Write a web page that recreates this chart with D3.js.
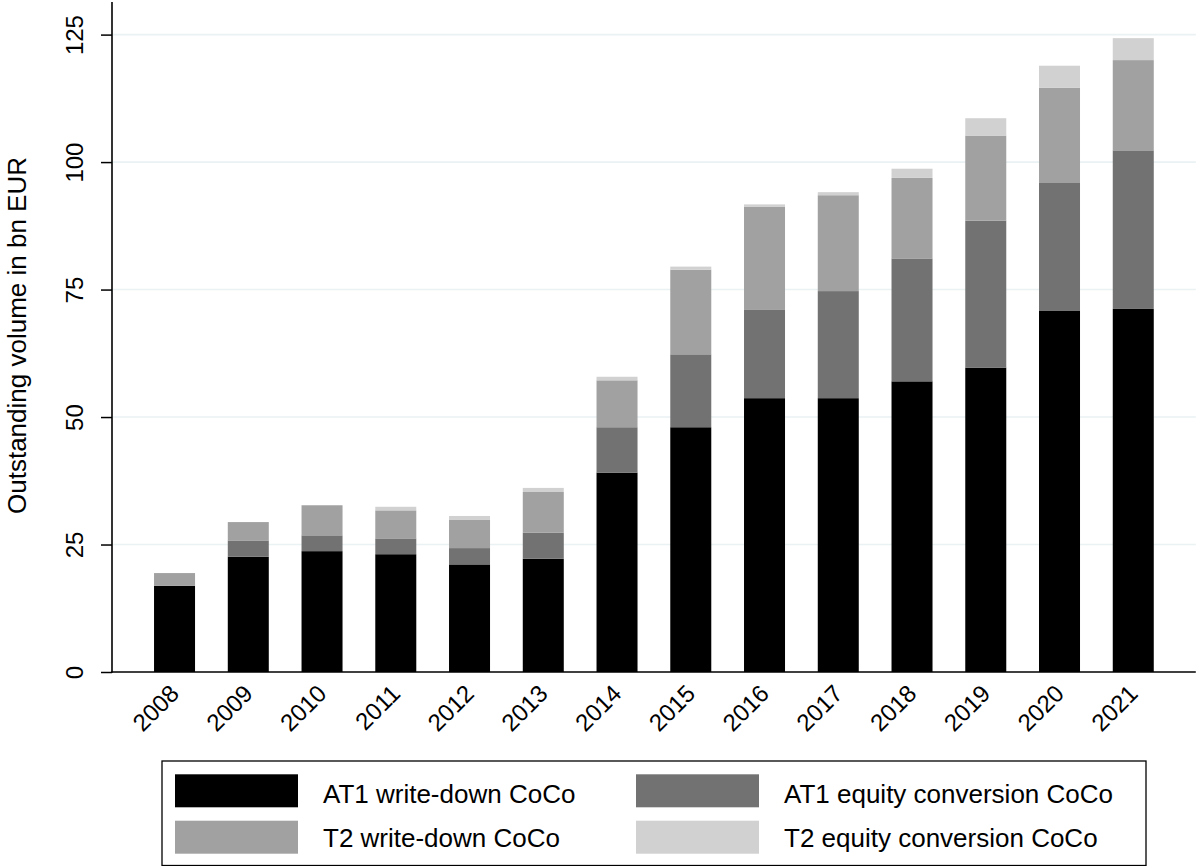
<!DOCTYPE html>
<html>
<head>
<meta charset="utf-8">
<script src="https://cdn.jsdelivr.net/npm/d3@7"></script>
<style>
  html, body { margin: 0; padding: 0; background: #fff; }
  svg { display: block; font-family: "Liberation Sans", Arial, Helvetica, sans-serif; }
</style>
</head>
<body>
<svg id="chart" width="1196" height="866"></svg>
<script>
const years = ["2008","2009","2010","2011","2012","2013","2014","2015","2016","2017","2018","2019","2020","2021"];
const at1WriteDown   = [16.9, 22.6, 23.7, 23.1, 21.1, 22.2, 39.1, 48.0, 53.7, 53.7, 57.0, 59.7, 70.8, 71.2];
const at1EquityConv  = [0.0, 3.2, 3.1, 3.1, 3.2, 5.1, 8.9, 14.3, 17.3, 21.0, 24.1, 28.8, 25.1, 31.1];
const t2WriteDown    = [2.5, 3.6, 5.9, 5.5, 5.6, 8.0, 9.2, 16.6, 20.2, 18.8, 15.8, 16.7, 18.7, 17.7];
const t2EquityConv   = [0.0, 0.0, 0.0, 0.7, 0.7, 0.8, 0.7, 0.6, 0.5, 0.6, 1.8, 3.4, 4.3, 4.3];
const seriesNames = ["AT1 write-down CoCo", "AT1 equity conversion CoCo", "T2 write-down CoCo", "T2 equity conversion CoCo"];
const seriesKeys = ["at1wd", "at1eq", "t2wd", "t2eq"];
const seriesColors = ["#000000", "#727272", "#a1a1a1", "#d1d1d1"];
const yTicks = [0, 25, 50, 75, 100, 125];
const yTitle = "Outstanding volume in bn EUR";

const table = years.map((yr, i) => ({
  year: yr,
  at1wd: at1WriteDown[i],
  at1eq: at1EquityConv[i],
  t2wd: t2WriteDown[i],
  t2eq: t2EquityConv[i]
}));

const svg = d3.select("#chart");
const plotLeft = 112, plotRight = 1195.8, plotTop = 2, plotBottom = 672;

const x = d3.scaleBand().domain(years).range([plotLeft, plotRight]).paddingInner(0.444).paddingOuter(0.57);
const y = d3.scaleLinear().domain([0, 125]).range([plotBottom, 34.6]);

// gridlines
svg.append("g").selectAll("line").data(yTicks.filter(d => d > 0)).join("line")
  .attr("x1", plotLeft + 1).attr("x2", plotRight)
  .attr("y1", d => y(d)).attr("y2", d => y(d))
  .attr("stroke", "#eaf2f3").attr("stroke-width", 1.6);

// stacked bars
const stacked = d3.stack().keys(seriesKeys)(table);
const color = d3.scaleOrdinal().domain(seriesKeys).range(seriesColors);
svg.append("g").selectAll("g").data(stacked).join("g")
  .attr("fill", d => color(d.key))
  .selectAll("rect").data(d => d).join("rect")
  .attr("x", d => x(d.data.year))
  .attr("width", x.bandwidth())
  .attr("y", d => y(d[1]))
  .attr("height", d => Math.max(0, y(d[0]) - y(d[1])));

// y axis
const yAxis = d3.axisLeft(y).tickValues(yTicks).tickSize(11).tickSizeOuter(0).tickPadding(0);
const gy = svg.append("g").attr("transform", `translate(${plotLeft},0)`).call(yAxis);
gy.select(".domain").remove();
gy.selectAll(".tick line").attr("stroke", "#000").attr("stroke-width", 1.5);
gy.selectAll(".tick text")
  .attr("font-size", 24).attr("fill", "#000")
  .attr("text-anchor", "middle")
  .attr("x", null).attr("dy", null)
  .attr("transform", "translate(-29,0) rotate(-90)");
svg.append("line").attr("x1", plotLeft).attr("x2", plotLeft).attr("y1", plotTop).attr("y2", plotBottom + 0.75)
  .attr("stroke", "#000").attr("stroke-width", 1.6);

// x axis
const xAxis = d3.axisBottom(x).tickSize(0).tickPadding(0);
const gx = svg.append("g").attr("transform", `translate(0,${plotBottom})`).call(xAxis);
gx.select(".domain").remove();
gx.selectAll(".tick text")
  .attr("font-size", 24).attr("fill", "#000")
  .attr("text-anchor", "end")
  .attr("y", null).attr("dy", null)
  .attr("transform", "translate(6,23) rotate(-45)");
svg.append("line").attr("x1", plotLeft - 0.8).attr("x2", plotRight).attr("y1", plotBottom).attr("y2", plotBottom)
  .attr("stroke", "#000").attr("stroke-width", 1.6);

// y title
svg.append("text")
  .attr("transform", `translate(26,${(158 + 513) / 2}) rotate(-90)`)
  .attr("text-anchor", "middle")
  .attr("font-size", 26).attr("fill", "#000")
  .text(yTitle);

// legend
const lg = svg.append("g");
lg.append("rect").attr("x", 162).attr("y", 761).attr("width", 1146 - 162).attr("height", 104.5)
  .attr("fill", "#fff").attr("stroke", "#000").attr("stroke-width", 1.3);
const legendPos = [
  { sx: 175, ty: 774.3, bl: 803.3 },
  { sx: 636, ty: 774.3, bl: 803.3 },
  { sx: 175, ty: 820.7, bl: 846.5 },
  { sx: 636, ty: 820.7, bl: 846.5 }
];
seriesNames.forEach((name, i) => {
  const p = legendPos[i];
  lg.append("rect").attr("x", p.sx).attr("y", p.ty).attr("width", 123).attr("height", 33)
    .attr("fill", seriesColors[i]);
  lg.append("text").attr("x", p.sx + 148).attr("y", p.bl)
    .attr("font-size", 26).attr("fill", "#000").text(name);
});
</script>
</body>
</html>
